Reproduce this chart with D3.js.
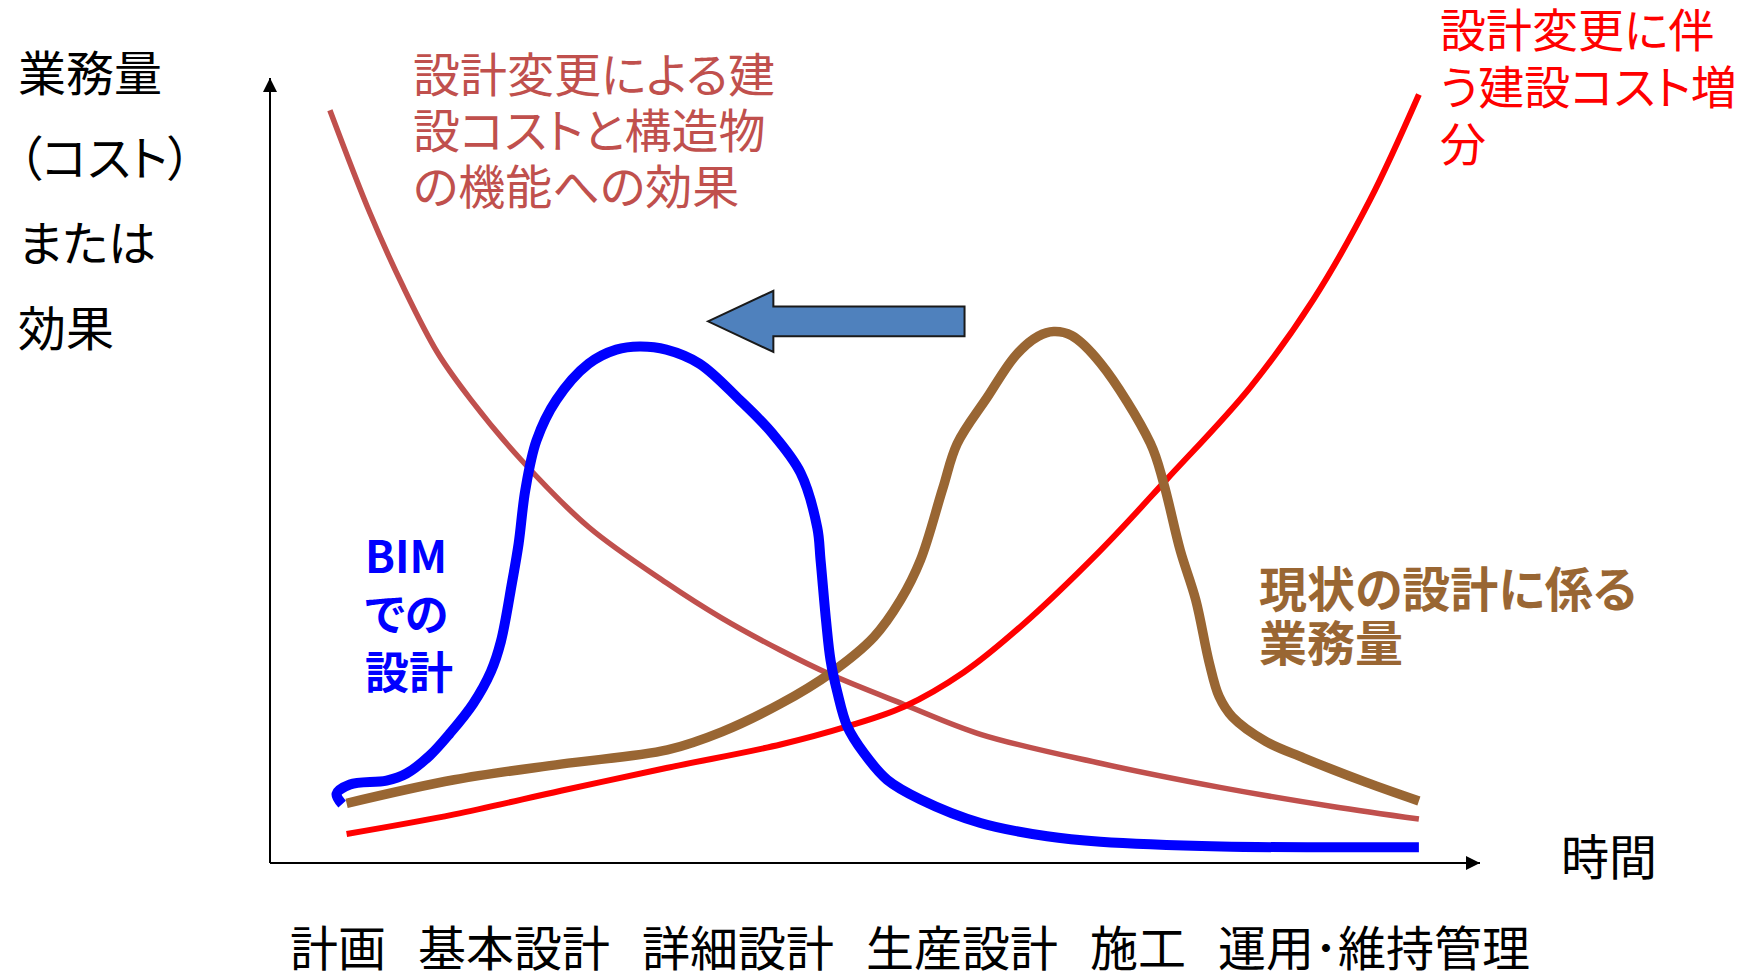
<!DOCTYPE html>
<html>
<head>
<meta charset="utf-8">
<script src="https://cdn.jsdelivr.net/npm/d3@7"></script>
<style>
  body { margin: 0; background: #fff; }
  text { font-family: "Noto Sans CJK JP", "Noto Sans", sans-serif; font-feature-settings: "palt"; }
</style>
</head>
<body>
<svg id="chart" width="1740" height="974"></svg>
<script>
// 時間 (0-100) と 業務量/コスト/効果 (0-100) の読み取り値
const costEffect = [
  [4.95, 95.9], [8.26, 82.8], [11.01, 73.4], [13.85, 65.0], [16.61, 59.0], [20.73, 51.4],
  [26.33, 42.8], [32.75, 35.7], [37.34, 31.2], [42.20, 27.1], [46.33, 24.0], [52.39, 20.2],
  [58.72, 16.4], [68.62, 12.7], [78.62, 9.6], [87.80, 7.2], [94.95, 5.6]
];
const costIncrease = [
  [6.33, 3.7], [15.23, 6.2], [24.04, 9.2], [32.75, 12.1], [42.20, 15.1], [47.71, 17.4],
  [52.39, 19.9], [57.34, 24.3], [62.02, 30.1], [68.62, 39.8], [74.13, 48.9], [81.01, 60.6],
  [86.24, 71.8], [90.92, 84.5], [94.95, 97.9]
];
const currentWork = [
  [6.33, 7.6], [15.23, 10.6], [24.04, 12.6], [32.84, 14.4], [37.34, 16.7], [42.20, 20.3],
  [46.33, 24.2], [49.91, 28.8], [52.11, 33.5], [53.76, 38.6], [55.60, 47.7], [56.79, 53.4],
  [59.27, 59.3], [61.65, 64.7], [63.49, 67.1], [64.77, 67.7], [66.24, 67.2], [68.62, 63.7],
  [72.75, 53.5], [73.85, 48.4], [75.23, 39.8], [76.51, 33.5], [77.61, 25.6], [78.44, 21.2],
  [79.54, 18.6], [82.29, 15.5], [85.41, 13.4], [90.55, 10.3], [94.95, 7.9]
];
const bimWork = [
  [5.96, 7.5], [5.50, 8.8], [6.61, 10.0], [9.63, 10.5], [11.28, 11.4], [13.21, 13.7],
  [14.86, 16.5], [16.79, 20.3], [18.26, 24.4], [19.08, 28.2], [20.00, 35.7], [20.55, 40.7],
  [21.10, 47.5], [22.02, 53.8], [23.67, 59.0], [26.33, 63.6], [28.62, 65.4], [30.55, 65.8],
  [32.75, 65.4], [35.50, 63.6], [38.81, 59.0], [41.47, 54.8], [43.85, 49.7], [45.23, 42.7],
  [45.50, 38.6], [45.96, 30.8], [46.33, 25.8], [46.88, 21.8], [47.71, 17.4], [49.08, 14.0],
  [51.01, 10.6], [53.76, 8.1], [58.72, 5.1], [64.22, 3.4], [68.62, 2.7], [78.62, 2.1],
  [87.80, 2.0], [94.95, 2.0]
];

const phases = ["計画", "基本設計", "詳細設計", "生産設計", "施工", "運用･維持管理"];
const yTitle = ["業務量", "（コスト）", "または", "効果"];

// 左向きの矢印 (データ単位)
const shiftArrow = { tip: 36.2, neck: 41.6, tail: 57.4, y: 69.0, head: 3.9, shaft: 1.9 };

const svg = d3.select("#chart");

const x = d3.scaleLinear().domain([0, 100]).range([270, 1480]);
const y = d3.scaleLinear().domain([0, 100]).range([863, 78]);

// axes
const defs = svg.append("defs");
defs.append("marker")
  .attr("id", "arrowhead")
  .attr("viewBox", "0 0 10 10")
  .attr("refX", 10).attr("refY", 5)
  .attr("markerUnits", "userSpaceOnUse")
  .attr("markerWidth", 15).attr("markerHeight", 14)
  .attr("orient", "auto")
  .append("path").attr("d", "M0,0L10,5L0,10Z").attr("fill", "#000");

svg.append("line")
  .attr("x1", x(0)).attr("y1", y(0)).attr("x2", x(0)).attr("y2", y(100))
  .attr("stroke", "#000").attr("stroke-width", 2).attr("marker-end", "url(#arrowhead)");
svg.append("line")
  .attr("x1", x(0)).attr("y1", y(0)).attr("x2", x(100)).attr("y2", y(0))
  .attr("stroke", "#000").attr("stroke-width", 2).attr("marker-end", "url(#arrowhead)");

// curves
const series = [
  { values: costEffect, color: "#C0504D", width: 5.5 },
  { values: costIncrease, color: "#FF0000", width: 6 },
  { values: currentWork, color: "#996633", width: 9.5 },
  { values: bimWork, color: "#0000FF", width: 10 }
];

const line = d3.line()
  .x(d => x(d[0]))
  .y(d => y(d[1]))
  .curve(d3.curveCatmullRom.alpha(0.5));

svg.append("g")
  .selectAll("path")
  .data(series)
  .join("path")
  .attr("d", d => line(d.values))
  .attr("fill", "none")
  .attr("stroke", d => d.color)
  .attr("stroke-width", d => d.width)
  .attr("stroke-linecap", "butt")
  .attr("stroke-linejoin", "round");

// block arrow
const a = shiftArrow;
const arrowPts = [
  [a.tip, a.y], [a.neck, a.y + a.head], [a.neck, a.y + a.shaft], [a.tail, a.y + a.shaft],
  [a.tail, a.y - a.shaft], [a.neck, a.y - a.shaft], [a.neck, a.y - a.head]
];
svg.append("path")
  .attr("d", "M" + arrowPts.map(p => x(p[0]) + "," + y(p[1])).join("L") + "Z")
  .attr("fill", "#4F81BD")
  .attr("stroke", "#1a1a1a")
  .attr("stroke-width", 2);

// multi-line text helper: cy = centre of the first line
function block(lines, opts) {
  const t = svg.append("text")
    .attr("fill", opts.color)
    .attr("font-size", opts.size)
    .attr("font-weight", opts.weight || 400);
  lines.forEach((s, i) => {
    t.append("tspan")
      .attr("x", opts.x)
      .attr("y", opts.cy + i * opts.lh + opts.size * 0.36)
      .text(s);
  });
  return t;
}

block(yTitle, { x: 18, cy: 74, lh: 85, size: 48, color: "#000" });

block(["設計変更による建", "設コストと構造物", "の機能への効果"],
  { x: 413, cy: 75, lh: 56, size: 47, color: "#C0504D" });

block(["設計変更に伴", "う建設コスト増", "分"],
  { x: 1440, cy: 30, lh: 57, size: 46, color: "#FF0000" });

block(["BIM", "での", "設計"],
  { x: 365, cy: 557, lh: 58, size: 44, color: "#0000FF", weight: 700 });

block(["現状の設計に係る", "業務量"],
  { x: 1259, cy: 590, lh: 54, size: 48, color: "#996633", weight: 700 });

block(["時間"], { x: 1561, cy: 858, lh: 0, size: 48, color: "#000" });

// phase labels along the time axis
const phaseText = svg.append("g")
  .attr("font-size", 48)
  .attr("fill", "#000");
let cursor = 290;
phases.forEach(p => {
  const t = phaseText.append("text")
    .attr("x", cursor)
    .attr("y", 949 + 48 * 0.36)
    .text(p);
  cursor += t.node().getComputedTextLength() + 32;
});
</script>
</body>
</html>
